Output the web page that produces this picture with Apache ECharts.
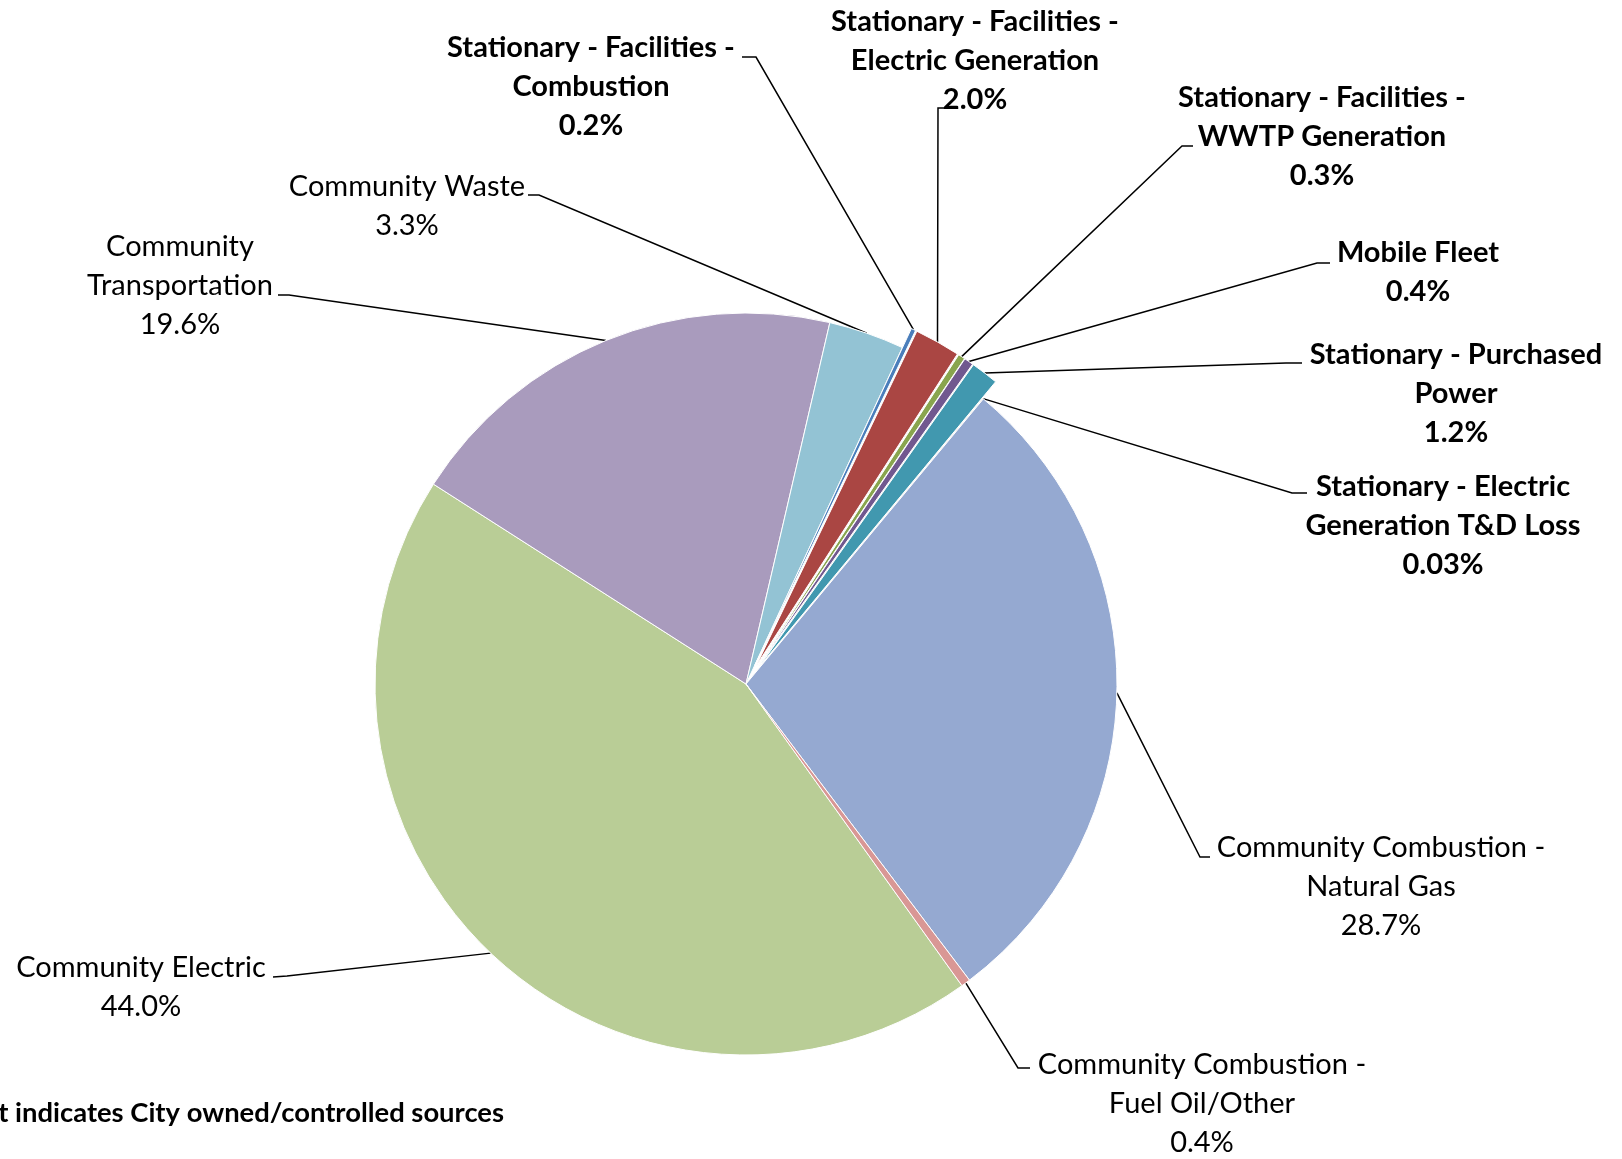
<!DOCTYPE html>
<html>
<head>
<meta charset="utf-8">
<script src="https://cdn.jsdelivr.net/npm/echarts@6/dist/echarts.min.js"></script>
<style>
  html, body { margin: 0; padding: 0; background: #ffffff; }
  #chart { width: 1622px; height: 1159px; }
</style>
</head>
<body>
<div id="chart"></div>
<script>
// GHG emission sources, share of total (%), in clockwise order
const categories = [
  'Community Electric',
  'Community Transportation',
  'Community Waste',
  'Stationary - Facilities - Combustion',
  'Stationary - Facilities - Electric Generation',
  'Stationary - Facilities - WWTP Generation',
  'Mobile Fleet',
  'Stationary - Purchased Power',
  'Stationary - Electric Generation T&D Loss',
  'Community Combustion - Natural Gas',
  'Community Combustion - Fuel Oil/Other'
];
const shares = [44.0, 19.6, 3.3, 0.2, 2.0, 0.3, 0.4, 1.2, 0.03, 28.7, 0.4];
// City owned / controlled sources (bold labels)
const cityOwned = [false, false, false, true, true, true, true, true, true, false, false];
// Slices pulled out from the pie
const pulledOut = [false, false, false, true, true, true, true, true, false, false, false];
const footnote = 'Bold text indicates City owned/controlled sources';

const sliceColors = ['#B9CD96', '#A99BBD', '#93C3D4', '#4A7EBB', '#AA4643', '#89A54E',
                     '#71588F', '#4198AF', '#DB843D', '#95A9D1', '#D99795'];

// Pie geometry
const CX = 746, CY = 684, R = 371, PULL = 21;
const START = 305.6;           // echarts startAngle (deg, counter-clockwise from 3 o'clock)
const FONT = 'Lato';
const FONT_SIZE = 29;
const LINE_H = 39;

// Label placement: text centre x, centre y of first line, words before the line break,
// knee of the leader line and its end next to the text
const labelPlacement = [
  { x: 141,  y: 968,  wrap: 0, knee: [287, 976],  end: [273, 977] },
  { x: 180,  y: 247,  wrap: 1, knee: [289, 295],  end: [278, 295] },
  { x: 407,  y: 187,  wrap: 0, knee: [539, 195],  end: [528, 195] },
  { x: 591,  y: 48,   wrap: 4, knee: [756, 57],   end: [742, 57] },
  { x: 975,  y: 22,   wrap: 4, knee: [938, 108],  end: [945, 108] },
  { x: 1322, y: 98,   wrap: 4, knee: [1182, 146], end: [1193, 146] },
  { x: 1418, y: 253,  wrap: 0, knee: [1317, 263], end: [1330, 263] },
  { x: 1456, y: 355,  wrap: 3, knee: [1286, 363], end: [1302, 363] },
  { x: 1443, y: 487,  wrap: 3, knee: [1292, 493], end: [1307, 493] },
  { x: 1381, y: 848,  wrap: 3, knee: [1200, 857], end: [1210, 857] },
  { x: 1202, y: 1065, wrap: 3, knee: [1018, 1068], end: [1030, 1068] }
];

function wrapName(name, wrap) {
  if (!wrap) return name;
  const words = name.split(' ');
  return words.slice(0, wrap).join(' ') + '\n' + words.slice(wrap).join(' ');
}
function pctText(v) {
  return (v < 0.1 ? v.toFixed(2) : v.toFixed(1)) + '%';
}

const total = shares.reduce((a, b) => a + b, 0);
// mid angle of each slice, clockwise from 12 o'clock, in degrees
const midAngles = [];
(function () {
  let acc = 0;
  const start = 90 - START;
  shares.forEach(v => {
    midAngles.push(start + (acc + v / 2) / total * 360);
    acc += v;
  });
})();

// leader line starts on the outer edge of the (possibly pulled-out) slice
function anchorPoint(i) {
  const a = midAngles[i] * Math.PI / 180;
  const r = R + (pulledOut[i] ? PULL : 0);
  return [CX + r * Math.sin(a), CY - r * Math.cos(a)];
}

const pieCommon = {
  type: 'pie',
  center: [CX, CY],
  radius: R,
  startAngle: START,
  clockwise: true,
  avoidLabelOverlap: false,
  emphasis: { disabled: true }
};

// visible slices; city-owned stationary/mobile slices are pulled out
const sliceData = categories.map((name, i) => ({
  name: name,
  value: shares[i],
  selected: pulledOut[i],
  itemStyle: { color: sliceColors[i] }
}));

// same values again, drawn invisibly, carrying the labels and leader lines
const labelData = categories.map((name, i) => ({
  name: name,
  value: shares[i],
  label: { fontWeight: cityOwned[i] ? 'bold' : 'normal' }
}));

const chart = echarts.init(document.getElementById('chart'), null, { renderer: 'canvas' });
chart.setOption({
  animation: false,
  backgroundColor: '#ffffff',
  series: [
    Object.assign({}, pieCommon, {
      name: 'slices',
      selectedMode: 'multiple',
      selectedOffset: PULL,
      itemStyle: { borderColor: '#ffffff', borderWidth: 1 },
      select: { itemStyle: { borderColor: '#ffffff', borderWidth: 1 } },
      label: { show: false },
      labelLine: { show: false },
      data: sliceData
    }),
    Object.assign({}, pieCommon, {
      name: 'labels',
      silent: true,
      selectedMode: false,
      itemStyle: { color: 'rgba(0,0,0,0)', borderWidth: 0 },
      label: {
        show: true,
        position: 'outer',
        color: '#000000',
        fontFamily: FONT,
        fontSize: FONT_SIZE,
        lineHeight: LINE_H,
        align: 'center',
        formatter: p => wrapName(p.name, labelPlacement[p.dataIndex].wrap) + '\n' + pctText(p.value)
      },
      labelLine: {
        show: true,
        smooth: false,
        lineStyle: { color: '#000000', width: 1.5 }
      },
      labelLayout: function (params) {
        const i = params.dataIndex;
        const lp = labelPlacement[i];
        return {
          x: lp.x,
          y: lp.y - LINE_H / 2,
          align: 'center',
          verticalAlign: 'top',
          labelLinePoints: [anchorPoint(i), lp.knee, lp.end]
        };
      },
      data: labelData
    })
  ],
  graphic: [{
    type: 'text',
    x: 504,
    y: 1113,
    style: {
      text: footnote,
      fill: '#000000',
      font: 'bold 27.4px ' + FONT,
      textAlign: 'right',
      textVerticalAlign: 'middle'
    }
  }]
});
</script>
</body>
</html>
